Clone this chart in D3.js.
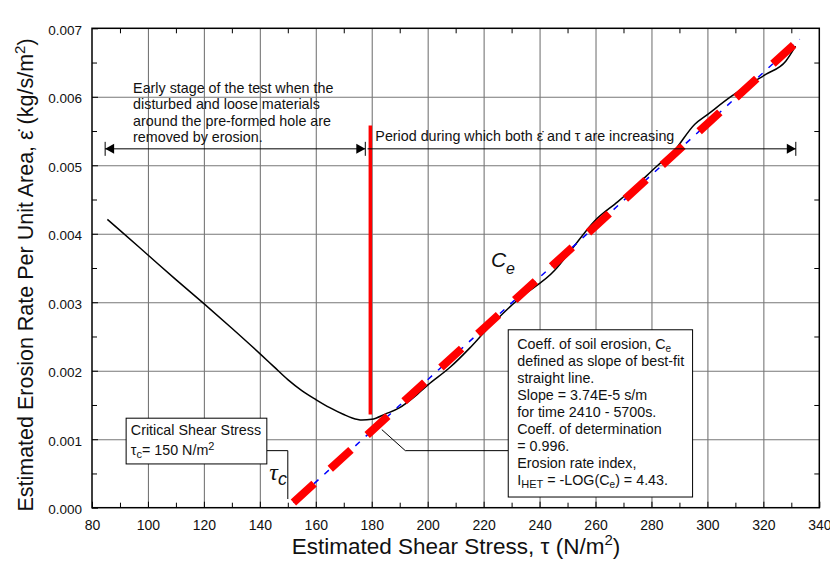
<!DOCTYPE html>
<html>
<head>
<meta charset="utf-8">
<script src="https://cdn.jsdelivr.net/npm/d3@7"></script>
<style>
body { margin: 0; background: #fff; }
text { font-family: "Liberation Sans", Arial, sans-serif; fill: #111; }
</style>
</head>
<body>
<script>
// measured curve: shear stress (N/m2) vs erosion rate (kg/s/m2)
var shearStress = [85.5, 90, 100, 110, 120, 130, 140, 145, 150, 155, 160, 165, 170, 173, 176.5,
    180, 185, 190, 195, 200, 208, 215, 220, 232, 245.5, 252, 259.5, 268, 275, 282, 287.5,
    295.5, 300, 308, 314, 321, 328, 331.5];
var erosionRate = [0.00421, 0.00405, 0.00369, 0.00333, 0.00298, 0.00262, 0.00225, 0.00206, 0.00187,
    0.00171, 0.00158, 0.00146, 0.00136, 0.00131, 0.00128, 0.00129, 0.00137, 0.00146, 0.00161,
    0.00179, 0.00205, 0.00233, 0.00255, 0.00303, 0.00347, 0.00380, 0.00418, 0.00447, 0.00472,
    0.00499, 0.00518, 0.00560, 0.00574, 0.00599, 0.00616, 0.00633, 0.00652, 0.00674];

// best-fit straight line end points
var fitStress = [152, 333];
var fitRate = [0.000075, 0.00684];

// start of the "increasing" period
var periodStart = 179.5;
var periodMarkRate = [0.00136, 0.00558];
var criticalStress = 150;

// ticks
var xTicks = [80, 100, 120, 140, 160, 180, 200, 220, 240, 260, 280, 300, 320, 340];
var xMinor = [90, 110, 130, 150, 170, 190, 210, 230, 250, 270, 290, 310, 330];
var yTicks = [0, 0.001, 0.002, 0.003, 0.004, 0.005, 0.006, 0.007];
var yMinor = [0.0005, 0.0015, 0.0025, 0.0035, 0.0045, 0.0055, 0.0065];
var yLabels = ["0.000", "0.001", "0.002", "0.003", "0.004", "0.005", "0.006", "0.007"];

var earlyText = ["Early stage of the test when the", "disturbed and loose materials",
    "around the pre-formed hole are", "removed by erosion."];

var W = 830, H = 561;
var margin = {top: 28.3, right: 10.7, bottom: 53.3, left: 92};
var w = W - margin.left - margin.right;
var h = H - margin.top - margin.bottom;
var fs = 14.3;

var svg = d3.select("body").append("svg").attr("width", W).attr("height", H);
var g = svg.append("g").attr("transform", "translate(" + margin.left + "," + margin.top + ")");

var x = d3.scaleLinear().domain([80, 340]).range([0, w]);
var y = d3.scaleLinear().domain([0, 0.007]).range([h, 0]);

// grid
g.append("g").attr("class", "grid").attr("transform", "translate(0," + h + ")")
    .call(d3.axisBottom(x).tickValues(xTicks.slice(1, -1)).tickSize(-h).tickFormat(""));
g.append("g").attr("class", "grid")
    .call(d3.axisLeft(y).tickValues(yTicks.slice(1, -1)).tickSize(-w).tickFormat(""));
g.selectAll(".grid .domain").remove();
g.selectAll(".grid line").attr("stroke", "#777").attr("stroke-width", 1.1);

// axes (inward ticks)
var xb = g.append("g").attr("transform", "translate(0," + h + ")")
    .call(d3.axisBottom(x).tickValues(xTicks).tickSizeInner(-6).tickSizeOuter(0).tickPadding(12));
xb.selectAll("text").attr("font-size", 14).attr("font-family", "Liberation Sans, Arial, sans-serif").attr("fill", "#111");
g.append("g").attr("transform", "translate(0," + h + ")")
    .call(d3.axisBottom(x).tickValues(xMinor).tickSize(-5).tickFormat(""));
g.append("g").call(d3.axisTop(x).tickValues(xMinor).tickSize(-5).tickFormat(""));

var yl = g.append("g")
    .call(d3.axisLeft(y).tickValues(yTicks).tickSizeInner(-6).tickSizeOuter(0).tickPadding(10)
        .tickFormat(function (d, i) { return yLabels[i]; }));
yl.selectAll("text").attr("font-size", 13.5).attr("dy", "0.45em")
    .attr("font-family", "Liberation Sans, Arial, sans-serif").attr("fill", "#111");
g.append("g").call(d3.axisLeft(y).tickValues(yMinor).tickSize(-5).tickFormat(""));
g.append("g").attr("transform", "translate(" + w + ",0)")
    .call(d3.axisRight(y).tickValues(yMinor).tickSize(-5).tickFormat(""));
g.selectAll(".domain").remove();
g.selectAll(".tick line").filter(function () { return this.parentNode.parentNode.getAttribute("class") !== "grid"; })
    .attr("stroke", "#000");

// curve
var line = d3.line()
    .x(function (d) { return x(d[0]); })
    .y(function (d) { return y(d[1]); })
    .curve(d3.curveMonotoneX);
g.append("path")
    .datum(d3.zip(shearStress, erosionRate))
    .attr("d", line)
    .attr("fill", "none").attr("stroke", "#000").attr("stroke-width", 1.5);

// best fit: thin blue and thick red dashes
var fitData = d3.zip(fitStress, fitRate);
var fitLine = d3.line().x(function (d) { return x(d[0]); }).y(function (d) { return y(d[1]); });
g.append("path").datum(fitData).attr("d", fitLine)
    .attr("fill", "none").attr("stroke", "#0000ff").attr("stroke-width", 1.5).attr("stroke-dasharray", "6,8");
g.append("path").datum(fitData).attr("d", fitLine)
    .attr("fill", "none").attr("stroke", "#ff0000").attr("stroke-width", 8).attr("stroke-dasharray", "28,22");

// red vertical marker
g.append("line")
    .attr("x1", x(periodStart)).attr("x2", x(periodStart))
    .attr("y1", y(periodMarkRate[0])).attr("y2", y(periodMarkRate[1]))
    .attr("stroke", "#ff0000").attr("stroke-width", 3.5);

// arrows
function arrow(x0, x1, yv, headLeft, headRight) {
    var a = g.append("g");
    var px0 = x(x0), px1 = x(x1), py = y(yv);
    a.append("line").attr("x1", px0).attr("x2", px1).attr("y1", py).attr("y2", py)
        .attr("stroke", "#000").attr("stroke-width", 1);
    if (headLeft) {
        a.append("path").attr("d", "M" + px0 + "," + py + "l9,-5v10z").attr("fill", "#000");
        a.append("line").attr("x1", px0).attr("x2", px0).attr("y1", py - 7).attr("y2", py + 7).attr("stroke", "#000");
    }
    if (headRight) {
        a.append("path").attr("d", "M" + px1 + "," + py + "l-9,-5v10z").attr("fill", "#000");
        a.append("line").attr("x1", px1).attr("x2", px1).attr("y1", py - 7).attr("y2", py + 7).attr("stroke", "#000");
    }
}
arrow(84.7, 177.7, 0.00524, true, true);
arrow(178.5, 331.6, 0.00524, false, true);

// early stage text
g.append("text")
    .attr("x", x(94.7)).attr("y", y(0.00606))
    .attr("font-size", fs)
    .selectAll("tspan").data(earlyText).enter().append("tspan")
    .attr("x", x(94.7)).attr("dy", function (d, i) { return i ? 16.6 : 0; })
    .text(function (d) { return d; });

g.append("text").attr("x", x(181.3)).attr("y", y(0.00535)).attr("font-size", fs)
    .text("Period during which both \u03B5\u0307 and \u03C4 are increasing");

// Ce label
var ce = g.append("text").attr("x", x(222.6)).attr("y", y(0.00352)).attr("font-size", 21).attr("font-style", "italic");
ce.append("tspan").text("C");
ce.append("tspan").attr("font-size", 16).attr("dy", 7).text("e");

// leader to Ce box
g.append("path")
    .attr("d", "M" + x(183.6) + "," + y(0.00114) + "L" + x(192) + "," + y(0.000833) + "H" + x(228.8))
    .attr("fill", "none").attr("stroke", "#000").attr("stroke-width", 1);

// Ce box
var bx0 = x(228.8), bx1 = x(294.7), by0 = y(0.002598), by1 = y(0.000156);
g.append("rect").attr("x", bx0).attr("y", by0).attr("width", bx1 - bx0).attr("height", by1 - by0)
    .attr("fill", "#fff").attr("stroke", "#000").attr("stroke-width", 1);
var bt = g.append("text").attr("font-size", fs);
function bline(i) { return bt.append("tspan").attr("x", bx0 + 9).attr("y", by0 + 19.5 + i * 17); }
var l0 = bline(0); l0.append("tspan").text("Coeff. of soil erosion, C");
l0.append("tspan").attr("font-size", 10).attr("dy", 3).text("e");
bline(1).text("defined as slope of best-fit");
bline(2).text("straight line.");
bline(3).text("Slope = 3.74E-5 s/m");
bline(4).text("for time 2410 - 5700s.");
bline(5).text("Coeff. of determination");
bline(6).text("= 0.996.");
bline(7).text("Erosion rate index,");
var l8 = bline(8);
l8.append("tspan").text("I");
l8.append("tspan").attr("font-size", 11).attr("dy", 3).text("HET");
l8.append("tspan").attr("dy", -3).text(" = -LOG(C");
l8.append("tspan").attr("font-size", 10).attr("dy", 3).text("e");
l8.append("tspan").attr("dy", -3).text(") = 4.43.");

// critical shear stress box + leader
var cx0 = x(92.2), cx1 = x(142.5), cy0 = y(0.001307), cy1 = y(0.000639);
g.append("path")
    .attr("d", "M" + cx1 + "," + y(0.000833) + "H" + x(criticalStress) + "V" + y(0.000127))
    .attr("fill", "none").attr("stroke", "#000").attr("stroke-width", 1);
g.append("rect").attr("x", cx0).attr("y", cy0).attr("width", cx1 - cx0).attr("height", cy1 - cy0)
    .attr("fill", "#fff").attr("stroke", "#000").attr("stroke-width", 1);
var ct = g.append("text").attr("font-size", fs);
ct.append("tspan").attr("x", cx0 + 4.7).attr("y", cy0 + 16.7).text("Critical Shear Stress");
var c2 = ct.append("tspan").attr("x", cx0 + 4.7).attr("y", cy0 + 36.7);
c2.append("tspan").text("\u03C4");
c2.append("tspan").attr("font-size", 11).attr("dy", 3).text("c");
c2.append("tspan").attr("dy", -3).text("= 150 N/m");
c2.append("tspan").attr("font-size", 11).attr("dy", -5).text("2");

// tau_c label
var tc = g.append("text").attr("x", x(143.4)).attr("y", y(0.000405)).attr("font-style", "italic").attr("font-size", 24);
tc.append("tspan").attr("font-family", "Liberation Serif, serif").text("\u03C4");
tc.append("tspan").attr("font-size", 18).attr("dy", 5).text("c");

// frame
g.append("rect").attr("width", w).attr("height", h).attr("fill", "none").attr("stroke", "#000").attr("stroke-width", 1.5);

// axis titles
var xt = svg.append("text").attr("x", 456).attr("y", 554).attr("text-anchor", "middle").attr("font-size", 22.5);
xt.append("tspan").text("Estimated Shear Stress, \u03C4 (N/m");
xt.append("tspan").attr("font-size", 15).attr("dy", -9).text("2");
xt.append("tspan").attr("dy", 9).text(")");

var yt = svg.append("text").attr("transform", "translate(33,275) rotate(-90)").attr("text-anchor", "middle").attr("font-size", 21.5);
yt.append("tspan").text("Estimated Erosion Rate Per Unit Area, \u03B5\u0307 (kg/s/m");
yt.append("tspan").attr("font-size", 15).attr("dy", -8).text("2");
yt.append("tspan").attr("dy", 8).text(")");
</script>
</body>
</html>
